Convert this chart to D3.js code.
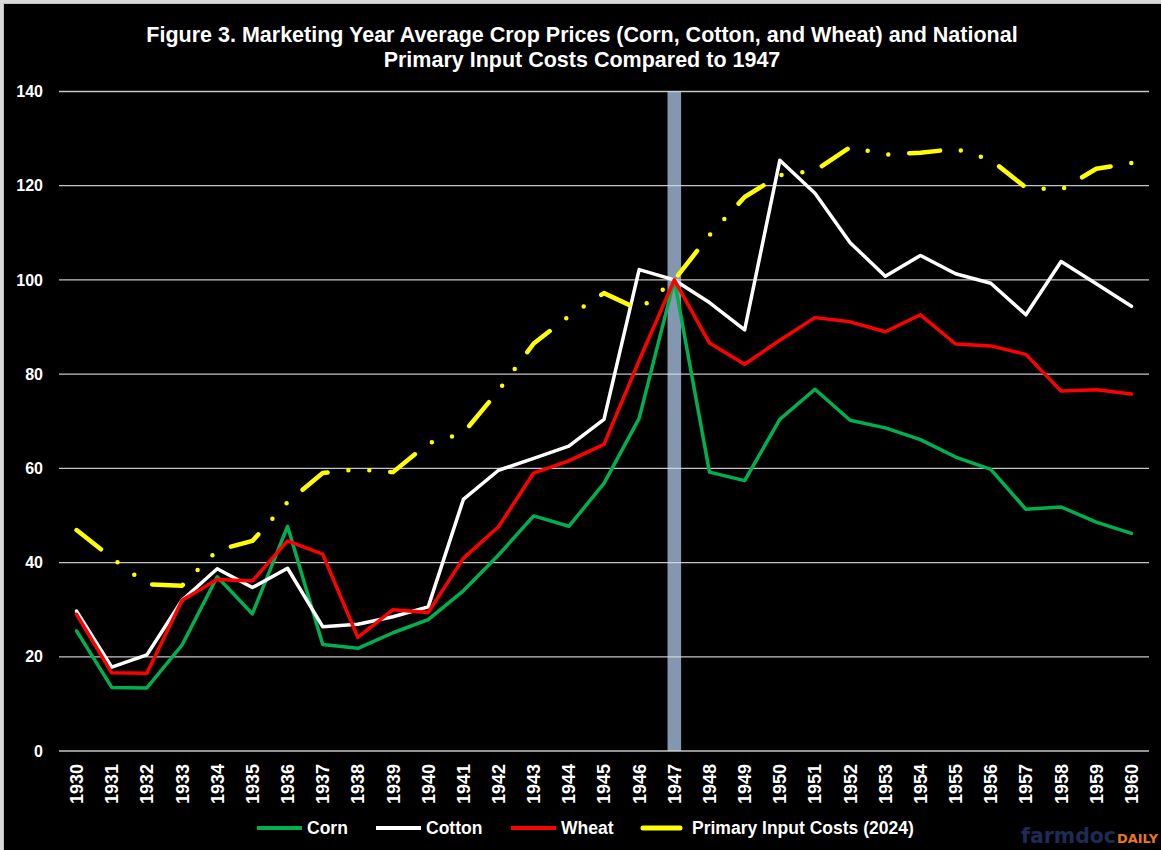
<!DOCTYPE html>
<html>
<head>
<meta charset="utf-8">
<script src="https://cdn.jsdelivr.net/npm/d3@7"></script>
<style>
	body { margin: 0; background: #d9d9d9; }
	svg { display: block; }
	text { font-family: "Liberation Sans", Arial, sans-serif; font-weight: bold; fill: #ffffff; }
</style>
</head>
<body>
<div id="chart"></div>
<script>
// values (index, 1947 = 100)
var years = d3.range(1930, 1961).map(String);
var yTicks = [0, 20, 40, 60, 80, 100, 120, 140];
var corn = [25.5, 13.5, 13.4, 22.5, 37.0, 29.1, 47.7, 22.6, 21.8, 25.1, 27.9, 34.0, 41.6, 49.9, 47.7, 56.8, 70.6, 100, 59.2, 57.4, 70.4, 76.8, 70.2, 68.6, 66.1, 62.4, 59.8, 51.3, 51.8, 48.6, 46.2];
var cotton = [29.7, 17.8, 20.4, 32.0, 38.7, 34.7, 38.8, 26.4, 26.9, 28.5, 30.6, 53.4, 59.6, 62.1, 64.7, 70.4, 102.2, 100, 95.2, 89.4, 125.4, 118.4, 107.9, 100.8, 105.2, 101.3, 99.3, 92.6, 103.9, 99.2, 94.4];
var wheat = [29.0, 16.6, 16.5, 32.0, 36.4, 36.1, 44.6, 41.8, 24.1, 30.0, 29.4, 40.9, 47.6, 59.0, 61.6, 65.1, 82.9, 100, 86.6, 82.1, 87.2, 92.0, 91.1, 89.0, 92.6, 86.4, 86.0, 84.2, 76.4, 76.7, 75.8];
var inputCosts = [46.9, 41.0, 35.4, 35.1, 42.6, 44.6, 52.8, 59.0, 59.8, 59.2, 65.3, 67.5, 76.5, 86.5, 92.3, 97.2, 93.7, 100, 109.5, 117.6, 122.2, 123.2, 128.2, 126.6, 127.0, 127.8, 125.5, 119.6, 119.1, 123.6, 124.8];
var baseYear = "1947";

var seriesNames = ["Corn", "Cotton", "Wheat", "Primary Input Costs (2024)"];
var seriesValues = [corn, cotton, wheat, inputCosts];
var seriesColors = ["#00b050", "#ffffff", "#ff0000", "#ffff00"];

var width = 1161,
	height = 850,
	plotLeft = 59,
	plotRight = 1149,
	plotTop = 91.5,
	plotBottom = 751;

var svg = d3.select("#chart").append("svg")
	.attr("width", width)
	.attr("height", height);

// black panel with a thin light frame
svg.append("rect")
	.attr("x", 3.5).attr("y", 3.5)
	.attr("width", width).attr("height", height)
	.attr("fill", "#000000")
	.attr("stroke", "#bfbfbf")
	.attr("stroke-width", 1);

var x = d3.scaleBand().domain(years).range([plotLeft, plotRight]).padding(0);
var y = d3.scaleLinear().domain([0, 140]).range([plotBottom, plotTop]);

function cx(year){
	return x(year) + x.bandwidth() / 2;
}

// 1947 marker bar
svg.append("rect")
	.attr("x", cx(baseYear) - 6.8)
	.attr("y", y(140))
	.attr("width", 13.6)
	.attr("height", y(0) - y(140))
	.attr("fill", "#8497b0");

// gridlines
svg.selectAll(".grid").data(yTicks).enter()
	.append("line")
	.attr("class", "grid")
	.attr("x1", plotLeft)
	.attr("x2", plotRight)
	.attr("y1", function(d){ return y(d); })
	.attr("y2", function(d){ return y(d); })
	.attr("stroke", "#d9d9d9")
	.attr("stroke-opacity", 0.9)
	.attr("stroke-width", 1.3);

// y axis labels
var yAxis = d3.axisLeft(y).tickValues(yTicks).tickSize(0).tickPadding(0);
var yG = svg.append("g")
	.attr("transform", "translate(43,0)")
	.call(yAxis);
yG.select(".domain").remove();
yG.selectAll("text")
	.attr("fill", "#ffffff")
	.style("font-size", "16px")
	.style("font-family", "'Liberation Sans', Arial, sans-serif")
	.style("font-weight", "bold");

// x axis labels, rotated
var xAxis = d3.axisBottom(x).tickSize(0).tickPadding(0);
var xG = svg.append("g")
	.attr("transform", "translate(0," + plotBottom + ")")
	.call(xAxis);
xG.select(".domain").remove();
xG.selectAll("text")
	.attr("fill", "#ffffff")
	.attr("transform", "rotate(-90)")
	.attr("text-anchor", "end")
	.attr("x", -13)
	.attr("y", 0)
	.attr("dy", "0.36em")
	.style("font-size", "18px")
	.style("font-family", "'Liberation Sans', Arial, sans-serif")
	.style("font-weight", "bold");

// series lines
var line = d3.line()
	.x(function(d, i){ return cx(years[i]); })
	.y(function(d){ return y(d); });

svg.selectAll(".series").data(seriesValues).enter()
	.append("path")
	.attr("class", "series")
	.attr("d", line)
	.attr("fill", "none")
	.attr("stroke", function(d, i){ return seriesColors[i]; })
	.attr("stroke-width", function(d, i){ return i == 3 ? 4.5 : 3.5; })
	.attr("stroke-linejoin", "round")
	.attr("stroke-linecap", "round")
	.attr("stroke-dasharray", function(d, i){ return i == 3 ? "31 21 0 21 0 21" : null; });

// title
var title = svg.append("text")
	.attr("text-anchor", "middle")
	.style("font-size", "21.5px");
title.append("tspan").attr("x", 582).attr("y", 42)
	.text("Figure 3. Marketing Year Average Crop Prices (Corn, Cotton, and Wheat) and National");
title.append("tspan").attr("x", 582).attr("y", 67)
	.text("Primary Input Costs Compared to 1947");

// legend
var legendX = [257, 376, 511, 640];
var legend = svg.selectAll(".legend").data(seriesNames).enter()
	.append("g")
	.attr("class", "legend")
	.attr("transform", function(d, i){ return "translate(" + legendX[i] + ",828)"; });
legend.append("line")
	.attr("x1", function(d, i){ return i == 3 ? 3 : 0; })
	.attr("x2", function(d, i){ return i == 3 ? 40 : 45; })
	.attr("stroke", function(d, i){ return seriesColors[i]; })
	.attr("stroke-width", function(d, i){ return i == 3 ? 5 : 4; })
	.attr("stroke-linecap", function(d, i){ return i == 3 ? "round" : "butt"; });
legend.append("text")
	.attr("x", function(d, i){ return i == 3 ? 52 : 50; })
	.attr("y", 6)
	.style("font-size", "17.5px")
	.text(function(d){ return d; });

// farmdoc daily mark
svg.append("text")
	.attr("x", 1021)
	.attr("y", 843)
	.attr("textLength", 95)
	.attr("lengthAdjust", "spacingAndGlyphs")
	.style("font-family", "'DejaVu Sans', sans-serif")
	.style("font-size", "21px")
	.style("fill", "#1f2a55")
	.text("farmdoc");
svg.append("text")
	.attr("x", 1117)
	.attr("y", 843)
	.attr("textLength", 41)
	.attr("lengthAdjust", "spacingAndGlyphs")
	.style("font-family", "'DejaVu Sans', sans-serif")
	.style("font-size", "13px")
	.style("fill", "#e87722")
	.text("DAILY");
</script>
</body>
</html>
